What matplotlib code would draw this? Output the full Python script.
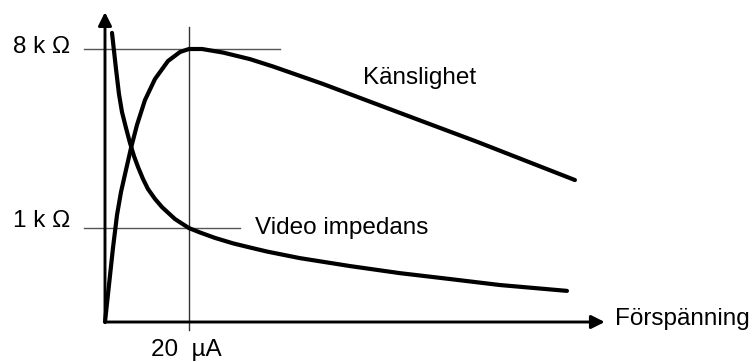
import matplotlib
matplotlib.use("Agg")
import matplotlib.pyplot as plt

# bias current in uA, response in % of the peak sensitivity level
sens_bias = [0, 0.95, 1.9, 2.86, 3.81, 5.0, 6.19, 7.62, 9.52, 11.9, 15.0,
             17.86, 20.0, 23.1, 28.1, 34.5, 40.0, 51.9, 67.1, 88.8, 111.9]
sens_level = [0, 13.55, 27.1, 39.2, 47.6, 55.7, 63.7, 72.2, 81.3, 89.0, 95.6,
              98.9, 100.0, 100.0, 98.7, 96.3, 93.6, 87.2, 78.4, 65.9, 52.0]

imp_bias = [1.67, 2.62, 3.33, 4.05, 5.0, 5.95, 6.9, 7.86, 9.05, 10.24, 11.9,
            13.57, 16.67, 20.0, 22.6, 26.2, 30.5, 34.5, 38.6, 46.4, 58.3,
            70.2, 82.1, 94.0, 110.0]
imp_level = [105.9, 92.7, 83.5, 76.9, 71.1, 65.6, 60.8, 56.8, 52.4, 48.7, 45.1,
             42.1, 37.7, 34.4, 32.8, 30.8, 28.8, 27.3, 25.8, 23.4, 20.5,
             17.9, 15.75, 13.55, 11.4]

level_8k = 100
level_1k = 34.4
bias_mark = 20

plt.rcParams["font.family"] = ["Liberation Sans", "DejaVu Sans"]

fig = plt.figure(figsize=(7.53, 3.62), dpi=100)
ax = fig.add_axes([0, 0, 1, 1])
ax.set_xlim(-25.0, 154.3)
ax.set_ylim(-14.65, 117.95)
ax.axis("off")

# thin reference lines
ax.plot([-5, 41.7], [level_8k, level_8k], color="#555555", lw=1.0)
ax.plot([-5, 32.1], [level_1k, level_1k], color="#555555", lw=1.0)
ax.plot([bias_mark, bias_mark], [-2.9, 108], color="#333333", lw=1.0)

# axes with arrow heads
arrow = dict(arrowstyle="-|>", lw=2.1, color="black", mutation_scale=20,
             shrinkA=0, shrinkB=0)
ax.annotate("", xy=(0, 113.5), xytext=(0, 0), arrowprops=arrow)
ax.annotate("", xy=(119, 0), xytext=(0, 0), arrowprops=arrow)

ax.plot(sens_bias, sens_level, color="black", lw=3.0,
        solid_joinstyle="round", solid_capstyle="round")
ax.plot(imp_bias, imp_level, color="black", lw=3.0,
        solid_joinstyle="round", solid_capstyle="round")

fs = 17.5
ax.text(-8.3, level_8k + 0.9, "8 k \u03a9", ha="right", va="center", fontsize=fs)
ax.text(-8.3, level_1k + 2.6, "1 k \u03a9", ha="right", va="center", fontsize=fs)
ax.text(bias_mark - 0.7, -10.3, "20  \u00b5A", ha="center", va="center", fontsize=fs)
ax.text(61.4, 89.4, "Känslighet", ha="left", va="center", fontsize=fs)
ax.text(35.7, level_1k, "Video impedans", ha="left", va="center", fontsize=fs)
ax.text(121.4, 1.1, "Förspänning", ha="left", va="center", fontsize=fs)

fig.savefig("out.png", dpi=100)
